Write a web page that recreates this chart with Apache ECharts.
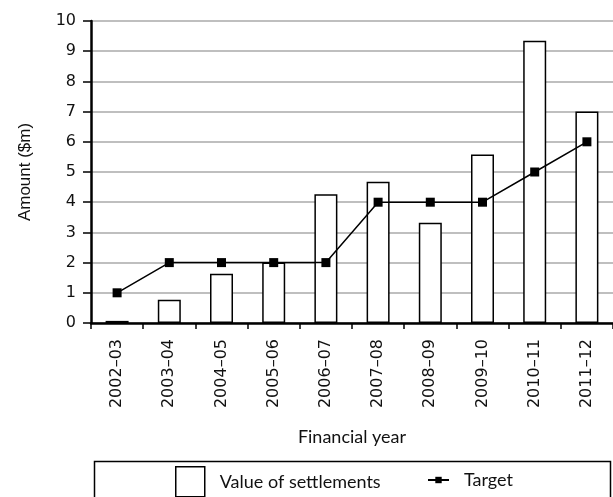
<!DOCTYPE html>
<html>
<head>
<meta charset="utf-8">
<script src="https://cdn.jsdelivr.net/npm/echarts@6/dist/echarts.min.js"></script>
<style>
  html, body { margin: 0; padding: 0; background: #fff; }
  #chart { width: 613px; height: 497px; }
</style>
</head>
<body>
<div id="chart"></div>
<script>
// Financial years on the category axis
const years = ['2002–03', '2003–04', '2004–05', '2005–06', '2006–07',
               '2007–08', '2008–09', '2009–10', '2010–11', '2011–12'];
// Value of settlements per year ($m)
const settlements = [0.07, 0.77, 1.63, 2.0, 4.26, 4.68, 3.32, 5.58, 9.35, 7.0];
// Target per year ($m)
const target = [1, 2, 2, 2, 2, 4, 4, 4, 5, 6];
// Value-axis range
const yMin = 0, yMax = 10, yStep = 1;

const tickFont = 'DejaVu Sans, Liberation Sans, sans-serif';
const titleFont = 'Lato, Open Sans, sans-serif';

const chart = echarts.init(document.getElementById('chart'), null, { renderer: 'canvas' });

chart.setOption({
  animation: false,
  backgroundColor: '#fff',
  grid: { left: 91, right: 0, top: 21, bottom: 174, containLabel: false },
  xAxis: {
    type: 'category',
    data: years,
    boundaryGap: true,
    name: 'Financial year',
    nameLocation: 'middle',
    nameGap: 105,
    nameTextStyle: { fontFamily: titleFont, fontSize: 18, color: '#111' },
    axisLine: { lineStyle: { color: '#000', width: 2.5 } },
    axisTick: { show: true, alignWithLabel: false, length: 6, lineStyle: { color: '#000', width: 1.5 } },
    axisLabel: { rotate: 90, margin: 16, fontFamily: tickFont, fontSize: 16, color: '#111' },
    splitLine: { show: false }
  },
  yAxis: {
    type: 'value',
    min: yMin, max: yMax, interval: yStep,
    name: 'Amount ($m)',
    nameLocation: 'middle',
    nameGap: 57,
    nameTextStyle: { fontFamily: 'Liberation Sans, Arial, sans-serif', fontSize: 17, color: '#111' },
    axisLine: { show: true, lineStyle: { color: '#000', width: 2.5 } },
    axisTick: { show: true, length: 8, lineStyle: { color: '#000', width: 1.5 } },
    axisLabel: { margin: 15, fontFamily: tickFont, fontSize: 16, color: '#111' },
    splitLine: { show: true, lineStyle: { color: '#aaa', width: 1.5 } }
  },
  legend: [
    {
      data: [{ name: 'Value of settlements', icon: 'rect' }],
      left: 170, top: 461,
      itemWidth: 29, itemHeight: 30,
      itemStyle: { color: '#fff', borderColor: '#000', borderWidth: 1.5 },
      textStyle: { fontFamily: titleFont, fontSize: 18, color: '#111', padding: [0, 0, 0, 10] }
    },
    {
      data: ['Target'],
      left: 422, top: 466,
      itemWidth: 21, itemHeight: 8,
      textStyle: { fontFamily: titleFont, fontSize: 18, color: '#111', padding: [0, 0, 0, 10] }
    }
  ],
  graphic: [
    {
      type: 'rect',
      left: 92, top: 459,
      shape: { width: 516, height: 60 },
      style: { fill: 'none', stroke: '#000', lineWidth: 1.5 },
      z: 0
    }
  ],
  series: [
    {
      name: 'Value of settlements',
      type: 'bar',
      data: settlements,
      barWidth: 23,
      itemStyle: { color: '#fff', borderColor: '#000', borderWidth: 1.5 },
      z: 2
    },
    {
      name: 'Target',
      type: 'line',
      data: target,
      symbol: 'rect',
      symbolSize: 9,
      itemStyle: { color: '#000' },
      lineStyle: { color: '#000', width: 1.5 },
      z: 3
    }
  ]
});
</script>
</body>
</html>
